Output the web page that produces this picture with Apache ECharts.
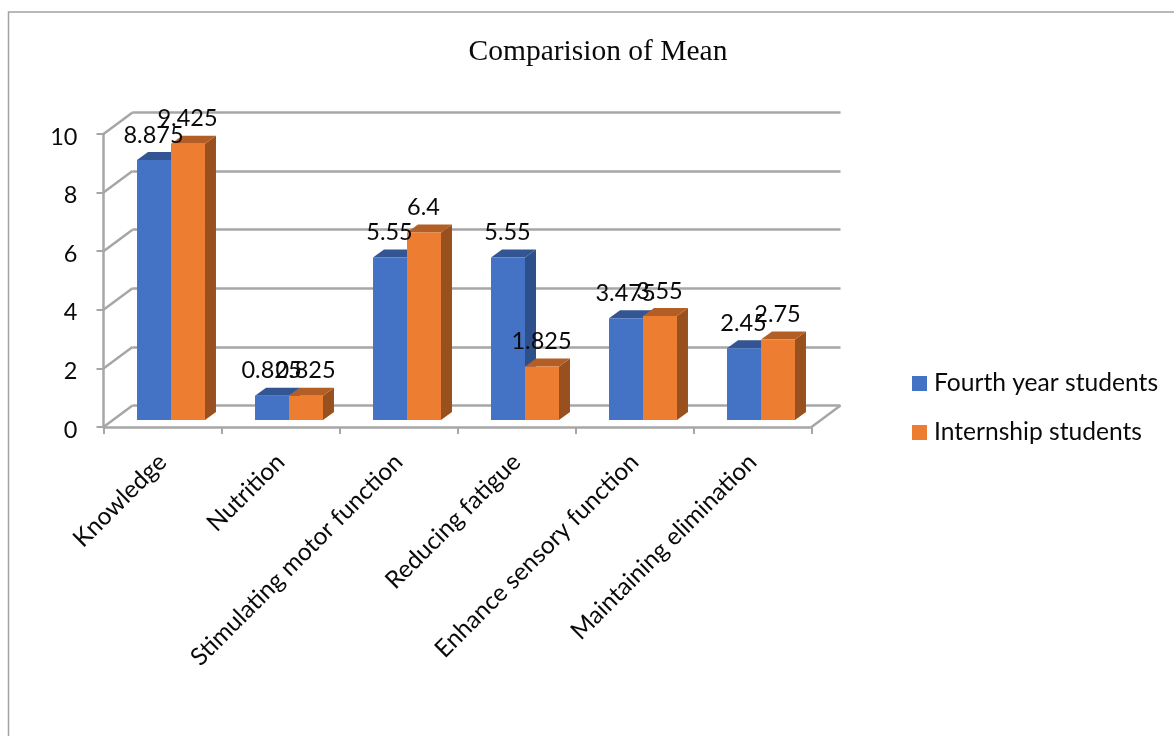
<!DOCTYPE html>
<html>
<head>
<meta charset="utf-8">
<title>Comparision of Mean</title>
<script src="https://cdn.jsdelivr.net/npm/echarts@6/dist/echarts.min.js"></script>
<style>
  html, body { margin: 0; padding: 0; background: #fff; }
  #chart { width: 1174px; height: 736px; }
</style>
</head>
<body>
<div id="chart"></div>
<script>
// Mean scores per domain for the two student groups
const categories = [
  'Knowledge', 'Nutrition', 'Stimulating motor function',
  'Reducing fatigue', 'Enhance sensory function', 'Maintaining elimination'
];
const fourthYear = [8.875, 0.825, 5.55, 5.55, 3.475, 2.45];
const internship = [9.425, 0.825, 6.4, 1.825, 3.55, 2.75];
const yTicks = [0, 2, 4, 6, 8, 10];

const BLUE = { front: '#4472C4', top: '#335593', side: '#2D4F8A' };
const ORANGE = { front: '#ED7D31', top: '#B35E25', side: '#98501E' };
const GRID_LINE = '#A6A6A6';
const LINE_WIDTH = 2.5;
const TEXT = '#0A0A0A';
const FONT = 'Lato';

// Pseudo-3D geometry, in pixels
const WALL = { dx: 29, dy: -21.5 };     // depth of the chart box
const PLANE = { dx: 8.5, dy: -7 };      // bars stand this far back from the front edge
const DEPTH = { dx: 11, dy: -8 };       // depth of a single bar
const BAR_RATIO = 0.288;                // bar width as a share of the category band

function barBox(api, index, value, slot) {
  const base = api.coord([index, 0]);
  const top = api.coord([index, value]);
  const w = api.size([1, 0])[0] * BAR_RATIO;
  const x = base[0] + PLANE.dx + (slot === 0 ? -w : 0);
  return { x, w, top: top[1] + PLANE.dy, base: base[1] + PLANE.dy };
}

function poly(points, fill) {
  return { type: 'polygon', shape: { points }, style: { fill, stroke: null } };
}

function line(a, b) {
  return {
    type: 'line',
    shape: { x1: a[0], y1: a[1], x2: b[0], y2: b[1] },
    style: { stroke: GRID_LINE, lineWidth: LINE_WIDTH, fill: null }
  };
}

// One 3D bar: side face, top face, then the front
function barSeries(name, values, colors, slot) {
  return {
    type: 'custom',
    name,
    xAxisIndex: 0,
    yAxisIndex: 0,
    z: 4,
    itemStyle: { color: colors.front },
    encode: { x: 0, y: 1 },
    data: values.map((v, i) => [i, v]),
    renderItem(params, api) {
      const b = barBox(api, api.value(0), api.value(1), slot);
      const r = b.x + b.w;
      return {
        type: 'group',
        children: [
          poly([[r, b.top], [r + DEPTH.dx, b.top + DEPTH.dy], [r + DEPTH.dx, b.base + DEPTH.dy], [r, b.base]], colors.side),
          poly([[b.x, b.top], [b.x + DEPTH.dx, b.top + DEPTH.dy], [r + DEPTH.dx, b.top + DEPTH.dy], [r, b.top]], colors.top),
          { type: 'rect', shape: { x: b.x, y: b.top, width: b.w, height: b.base - b.top }, style: { fill: colors.front } }
        ]
      };
    }
  };
}

// Value labels float above the bars and sit above everything else
function labelSeries(name, values, slot) {
  return {
    type: 'custom',
    name,
    xAxisIndex: 0,
    yAxisIndex: 0,
    z: 6,
    encode: { x: 0, y: 1 },
    data: values.map((v, i) => [i, v]),
    renderItem(params, api) {
      const v = api.value(1);
      const b = barBox(api, api.value(0), v, slot);
      return {
        type: 'text',
        style: {
          x: b.x + b.w / 2 - 0.5,
          y: b.top - 25,
          text: String(v),
          fill: TEXT,
          font: '23.5px ' + FONT,
          align: 'center',
          verticalAlign: 'middle'
        }
      };
    }
  };
}

const chart = echarts.init(document.getElementById('chart'), null, { renderer: 'canvas' });

chart.setOption({
  animation: false,
  backgroundColor: '#fff',
  title: {
    text: 'Comparision of Mean',
    left: 593,
    top: 32,
    textAlign: 'center',
    textStyle: { fontFamily: 'Liberation Serif', fontSize: 29.5, fontWeight: 'normal', color: TEXT }
  },
  legend: {
    data: ['Fourth year students', 'Internship students'],
    orient: 'vertical',
    padding: 0,
    left: 912,
    top: 371,
    icon: 'rect',
    itemWidth: 15,
    itemHeight: 15,
    itemGap: 24,
    textStyle: { fontFamily: FONT, fontSize: 24.6, color: TEXT, padding: [0, 0, 0, 2] }
  },
  grid: [
    { left: 103.5, top: 134, width: 708, height: 293 },
    { left: 132.5, top: 112.5, width: 708, height: 293 }
  ],
  xAxis: [
    {
      type: 'category',
      gridIndex: 0,
      data: categories,
      axisLine: { lineStyle: { color: GRID_LINE, width: LINE_WIDTH } },
      axisTick: { show: true, length: 7, lineStyle: { color: GRID_LINE, width: 2 } },
      axisLabel: { interval: 0, rotate: 45, margin: 31, fontFamily: FONT, fontSize: 24.4, color: TEXT }
    },
    { type: 'category', gridIndex: 1, data: categories, show: false }
  ],
  yAxis: [
    {
      type: 'value',
      gridIndex: 0,
      min: 0,
      max: 10,
      interval: 2,
      axisLine: { show: true, lineStyle: { color: GRID_LINE, width: LINE_WIDTH } },
      axisTick: { show: true, length: 7, lineStyle: { color: GRID_LINE, width: 2 } },
      axisLabel: { margin: 26, verticalAlign: 'top', lineHeight: 6, fontFamily: FONT, fontSize: 23.5, color: TEXT },
      splitLine: { show: false }
    },
    {
      // back wall gridlines
      type: 'value',
      gridIndex: 1,
      min: 0,
      max: 10,
      interval: 2,
      axisLine: { show: false },
      axisTick: { show: false },
      axisLabel: { show: false },
      splitLine: { show: true, lineStyle: { color: GRID_LINE, width: LINE_WIDTH } }
    }
  ],
  series: [
    {
      // side-wall diagonals and the right edge of the floor
      type: 'custom',
      name: 'walls',
      xAxisIndex: 0,
      yAxisIndex: 0,
      z: 2,
      silent: true,
      encode: { y: 0 },
      data: yTicks.map(t => [t]),
      renderItem(params, api) {
        const v = api.value(0);
        const halfBand = api.size([1, 0])[0] / 2;
        const p = api.coord([0, v]);
        const left = [p[0] - halfBand, p[1]];
        const children = [line(left, [left[0] + WALL.dx, left[1] + WALL.dy])];
        if (v === 0) {
          const q = api.coord([categories.length - 1, 0]);
          const right = [q[0] + halfBand, q[1]];
          children.push(line(right, [right[0] + WALL.dx, right[1] + WALL.dy]));
        }
        return { type: 'group', children };
      }
    },
    barSeries('Fourth year students', fourthYear, BLUE, 0),
    barSeries('Internship students', internship, ORANGE, 1),
    labelSeries('Fourth year labels', fourthYear, 0),
    labelSeries('Internship labels', internship, 1)
  ],
  graphic: [{
    // outer frame, running past the right and bottom of the page
    type: 'rect',
    silent: true,
    shape: { x: 8.5, y: 12, width: 1300, height: 900 },
    style: { fill: null, stroke: '#A3A3A3', lineWidth: 1.5 }
  }]
});
</script>
</body>
</html>
